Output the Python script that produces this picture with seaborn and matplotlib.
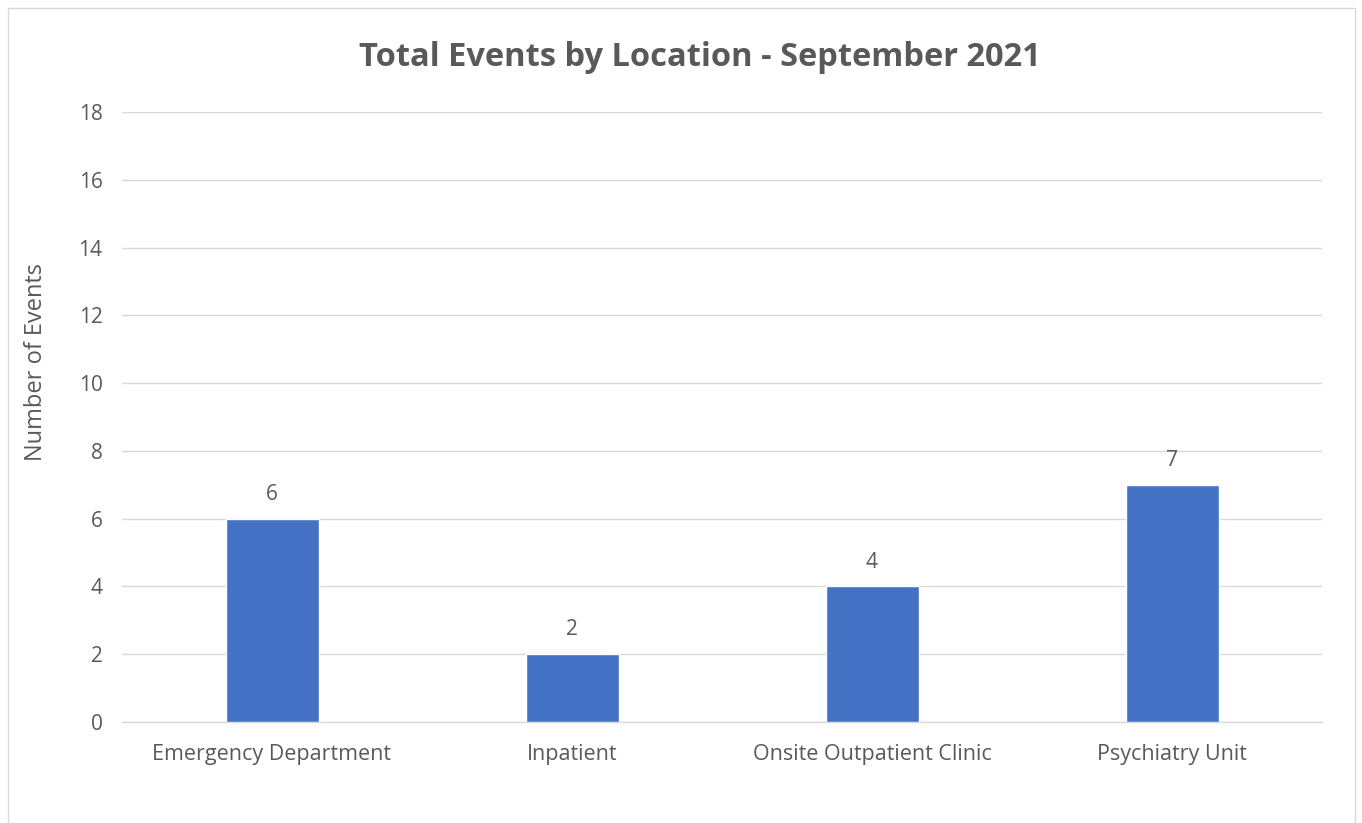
import matplotlib
matplotlib.use("Agg")
import matplotlib.pyplot as plt
import matplotlib.patches as mpatches
import seaborn as sns
import pandas as pd

categories = ["Emergency Department", "Inpatient", "Onsite Outpatient Clinic", "Psychiatry Unit"]
values = [6, 2, 4, 7]
yticks = [0, 2, 4, 6, 8, 10, 12, 14, 16, 18]

sns.set_theme(style="white")
plt.rcParams['font.family'] = ['Open Sans', 'DejaVu Sans']
text_color = "#595959"

df = pd.DataFrame({"Location": categories, "Events": values})

fig = plt.figure(figsize=(13.62, 8.23), dpi=100)
ax = fig.add_axes([122/1362, 1-722/823, 1200/1362, 610/823])

sns.barplot(data=df, x="Location", y="Events", color="#4472C4", width=0.31,
            saturation=1, ax=ax, zorder=3)

ax.set_ylim(0, 18)
ax.set_yticks(yticks)
ax.set_yticklabels([str(t) for t in yticks], fontsize=15, color=text_color)
ax.set_xticklabels(categories, fontsize=15.5, color=text_color)
ax.tick_params(axis="x", length=0, pad=16)
ax.tick_params(axis="y", length=0, pad=14)
ax.grid(axis="y", color="#D9D9D9", linewidth=1, zorder=0)
for s in ["top", "right", "left"]:
    ax.spines[s].set_visible(False)
ax.spines["bottom"].set_color("#D9D9D9")
ax.spines["bottom"].set_linewidth(1)
ax.set_xlabel("")
ax.set_ylabel("Number of Events", fontsize=17, color=text_color)
ax.yaxis.set_label_coords(-0.062, 0.59)

for p, v in zip(ax.patches, values):
    ax.annotate(str(v), (p.get_x() + p.get_width()/2, p.get_height()),
                xytext=(0, 10), textcoords="offset points", ha="center",
                va="bottom", fontsize=15, color=text_color)

fig.text(0.514, 1-57/823, "Total Events by Location - September 2021",
         ha="center", va="center", fontsize=23.5, fontweight="bold", color=text_color)

border = mpatches.Rectangle((8/1362, -0.01), (1355-8)/1362, 1-8/823+0.01,
                            transform=fig.transFigure, fill=False,
                            edgecolor="#D9D9D9", linewidth=1)
fig.patches.append(border)

fig.savefig("out.png", dpi=100, facecolor="white")
